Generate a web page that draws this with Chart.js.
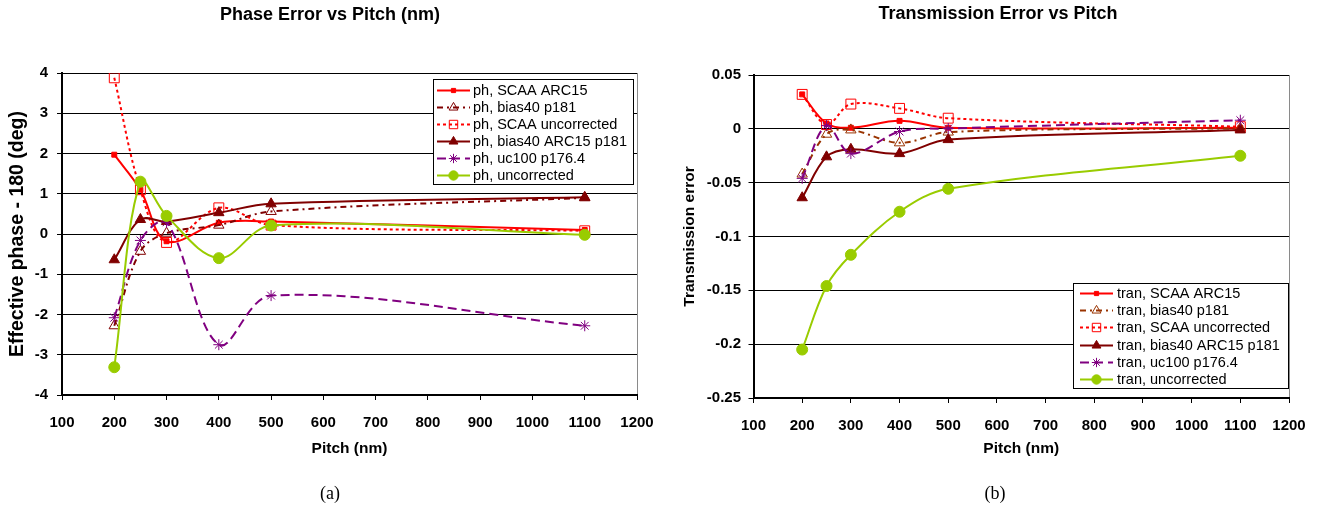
<!DOCTYPE html>
<html><head><meta charset="utf-8">
<script src="https://cdn.jsdelivr.net/npm/chart.js@4.4.1/dist/chart.umd.min.js"></script>
<style>
html,body{margin:0;padding:0;background:#fff;width:1320px;height:510px;overflow:hidden}
#wa{position:absolute;left:0;top:0;width:660px;height:510px}
#wb{position:absolute;left:676px;top:0;width:644px;height:510px}
.cap{position:absolute;top:482px;width:60px;margin-left:-30px;text-align:center;font-family:"Liberation Serif","Times New Roman",serif;font-size:18px;line-height:22px;color:#000}
</style></head><body>
<div id="wa"><canvas id="c1" width="660" height="510"></canvas></div>
<div id="wb"><canvas id="c2" width="644" height="510"></canvas></div>
<div class="cap" style="left:330px">(a)</div>
<div class="cap" style="left:995px">(b)</div>
<script>
// ---- data ----
const pitch = [200, 250, 300, 400, 500, 1100];
const xTicks = [100, 200, 300, 400, 500, 600, 700, 800, 900, 1000, 1100, 1200];
const phaseTicks = [-4, -3, -2, -1, 0, 1, 2, 3, 4];
const tranTicks = [-0.25, -0.2, -0.15, -0.1, -0.05, 0, 0.05];

const phNames = ['ph, SCAA ARC15', 'ph, bias40 p181', 'ph, SCAA uncorrected', 'ph, bias40 ARC15 p181', 'ph, uc100 p176.4', 'ph, uncorrected'];
const trNames = ['tran, SCAA ARC15', 'tran, bias40 p181', 'tran, SCAA uncorrected', 'tran, bias40 ARC15 p181', 'tran, uc100 p176.4', 'tran, uncorrected'];

const phScaaArc15   = [1.97, 1.10, -0.18, 0.28, 0.31, 0.10];
const phBias40      = [-2.28, -0.43, 0.02, 0.22, 0.56, 0.90];
const phScaaUncorr  = [3.88, 1.10, -0.21, 0.65, 0.22, 0.08];
const phBias40Arc15 = [-0.64, 0.36, 0.31, 0.53, 0.75, 0.91];
const phUc100       = [-2.08, -0.16, 0.29, -2.75, -1.53, -2.28];
const phUncorr      = [-3.31, 1.30, 0.45, -0.60, 0.21, -0.02];

const trScaaArc15   = [0.032, 0.005, 0.001, 0.0074, 0.001, 0.001];
const trBias40      = [-0.042, -0.005, -0.001, -0.013, -0.003, 0.0005];
const trScaaUncorr  = [0.032, 0.004, 0.023, 0.019, 0.0099, 0.002];
const trBias40Arc15 = [-0.064, -0.026, -0.019, -0.023, -0.010, -0.001];
const trUc100       = [-0.046, 0.003, -0.023, -0.0025, 0.0003, 0.008];
const trUncorr      = [-0.205, -0.146, -0.117, -0.077, -0.0557, -0.025];

// ---- styles ----
const FONT = "'Liberation Sans', Arial, sans-serif";
function styles(bias40Color) {
  return [
    {c: '#FF0000', dash: [], ps: 'rect', r: 3.5, fill: true},
    {c: bias40Color, dash: [6, 4, 2, 4], ps: 'triangle', r: 6, fill: false},
    {c: '#FF0000', dash: [3, 3], ps: 'rect', r: 7, fill: false},
    {c: '#800000', dash: [], ps: 'triangle', r: 6, fill: true},
    {c: '#800080', dash: [9, 5], ps: 'star', r: 5.5, fill: false},
    {c: '#99CC00', dash: [], ps: 'circle', r: 5.5, fill: true}
  ];
}
function makeDatasets(names, series, st) {
  return series.map((vals, i) => ({
    label: names[i],
    data: pitch.map((p, k) => ({x: p, y: vals[k]})),
    borderColor: st[i].c,
    borderWidth: 2,
    borderDash: st[i].dash,
    tension: 0.35,
    pointStyle: st[i].ps,
    pointRadius: st[i].r,
    pointBorderColor: st[i].c,
    pointBackgroundColor: st[i].fill ? st[i].c : 'rgba(255,255,255,0)',
    pointBorderWidth: 1,
    fill: false,
    order: 5 - i
  }));
}

const boxLegend = {
  id: 'boxLegend',
  afterDraw(chart, args, o) {
    const ctx = chart.ctx;
    ctx.save();
    ctx.fillStyle = '#fff';
    ctx.fillRect(o.x, o.y, o.w, o.h);
    ctx.strokeStyle = '#000'; ctx.lineWidth = 1; ctx.setLineDash([]);
    ctx.strokeRect(o.x + 0.5, o.y + 0.5, o.w, o.h);
    ctx.font = o.font;
    ctx.textBaseline = 'middle';
    ctx.textAlign = 'left';
    chart.data.datasets.forEach((ds, i) => {
      const cy = Math.round(o.y + o.top + i * o.rowH) + 0.5;
      ctx.strokeStyle = ds.borderColor; ctx.lineWidth = ds.borderWidth;
      ctx.setLineDash(ds.borderDash || []);
      ctx.beginPath(); ctx.moveTo(o.x + o.lx0, cy); ctx.lineTo(o.x + o.lx1, cy); ctx.stroke();
      ctx.setLineDash([]);
      ctx.fillStyle = ds.pointBackgroundColor; ctx.strokeStyle = ds.pointBorderColor; ctx.lineWidth = ds.pointBorderWidth;
      Chart.helpers.drawPoint(ctx, {pointStyle: ds.pointStyle, radius: ds.pointRadius * o.ms, rotation: 0, borderWidth: ds.pointBorderWidth}, o.x + (o.lx0 + o.lx1) / 2, cy);
      ctx.fillStyle = '#000';
      ctx.fillText(ds.label, o.x + o.tx, cy);
    });
    ctx.restore();
  }
};

function makeChart(id, cfg) {
  const fmt = v => String(Math.round(v * 1000) / 1000);
  return new Chart(document.getElementById(id), {
    type: 'line',
    data: {datasets: cfg.datasets},
    plugins: [boxLegend],
    options: {
      responsive: false,
      animation: false,
      events: [],
      layout: {padding: 0},
      plugins: {
        legend: {display: false},
        tooltip: {enabled: false},
        title: {display: true, text: cfg.title, color: '#000',
          font: {family: FONT, size: 18, weight: 'bold', lineHeight: 1.2},
          padding: {top: cfg.titleTop, bottom: cfg.titleBottom}},
        boxLegend: cfg.legend
      },
      scales: {
        x: {
          type: 'linear', min: 100, max: 1200,
          afterBuildTicks: s => { s.ticks = xTicks.map(v => ({value: v})); },
          afterFit: s => { s.height = cfg.xAxisH; s.paddingLeft = 0; s.paddingRight = 0; },
          ticks: {autoSkip: false, maxRotation: 0, padding: cfg.xTickPad, color: '#000',
            font: {family: FONT, size: 15, weight: 'bold'}, callback: fmt},
          grid: {drawOnChartArea: true, drawTicks: true, tickLength: 5, tickColor: '#000',
            color: c => (c.tick && c.tick.value === 1200) ? '#8a8a8a' : 'rgba(0,0,0,0)', lineWidth: 1},
          border: {display: true, color: '#000', width: 2},
          title: {display: true, text: 'Pitch (nm)', color: '#000',
            font: {family: FONT, size: 15.5, weight: 'bold', lineHeight: 1.2},
            padding: {top: 0, bottom: cfg.xTitleBottom}}
        },
        y: {
          type: 'linear', position: 'left', min: cfg.yMin, max: cfg.yMax,
          afterBuildTicks: s => { s.ticks = cfg.yTicks.map(v => ({value: v})); },
          afterFit: s => { s.width = cfg.yAxisW; },
          ticks: {padding: cfg.yTickPad, color: '#000',
            font: {family: FONT, size: 15, weight: 'bold'}, callback: fmt},
          grid: {color: '#000', lineWidth: 1, drawTicks: true, tickLength: 5, tickColor: '#000'},
          border: {display: true, color: '#000', width: 2},
          title: {display: true, text: cfg.yTitle, color: '#000',
            font: {family: FONT, size: cfg.yTitleSize, weight: 'bold', lineHeight: 1.2},
            padding: {top: cfg.yTitlePad, bottom: 0}}
        },
        yr: {
          type: 'linear', position: 'right', display: true,
          afterFit: s => { s.width = cfg.padRight; },
          ticks: {display: false},
          grid: {display: false, drawTicks: false},
          border: {display: false}
        }
      }
    }
  });
}

makeChart('c1', {
  datasets: makeDatasets(phNames, [phScaaArc15, phBias40, phScaaUncorr, phBias40Arc15, phUc100, phUncorr], styles('#800000')),
  title: 'Phase Error vs Pitch (nm)', titleTop: 4, titleBottom: 47.4,
  padRight: 23, xAxisH: 115, yAxisW: 62, xTickPad: 14, yTickPad: 9, xTitleBottom: 52,
  yMin: -4, yMax: 4, yTicks: phaseTicks,
  yTitle: 'Effective phase - 180 (deg)', yTitleSize: 19.5, yTitlePad: 6,
  legend: {x: 433, y: 79, w: 200, h: 105, top: 10.5, rowH: 17, lx0: 4, lx1: 37, tx: 40, ms: 0.85,
    font: "14.5px " + FONT}
});

makeChart('c2', {
  datasets: makeDatasets(trNames, [trScaaArc15, trBias40, trScaaUncorr, trBias40Arc15, trUc100, trUncorr], styles('#993300')),
  title: 'Transmission Error vs Pitch', titleTop: 3, titleBottom: 50.4,
  padRight: 31, xAxisH: 112, yAxisW: 77.5, xTickPad: 14, yTickPad: 7.5, xTitleBottom: 52,
  yMin: -0.25, yMax: 0.05, yTicks: tranTicks,
  yTitle: 'Transmission error', yTitleSize: 15.5, yTitlePad: 4,
  legend: {x: 397, y: 283, w: 215, h: 105, top: 10, rowH: 17.2, lx0: 7, lx1: 40, tx: 44, ms: 0.85,
    font: "14.5px " + FONT}
});
</script>
</body></html>
